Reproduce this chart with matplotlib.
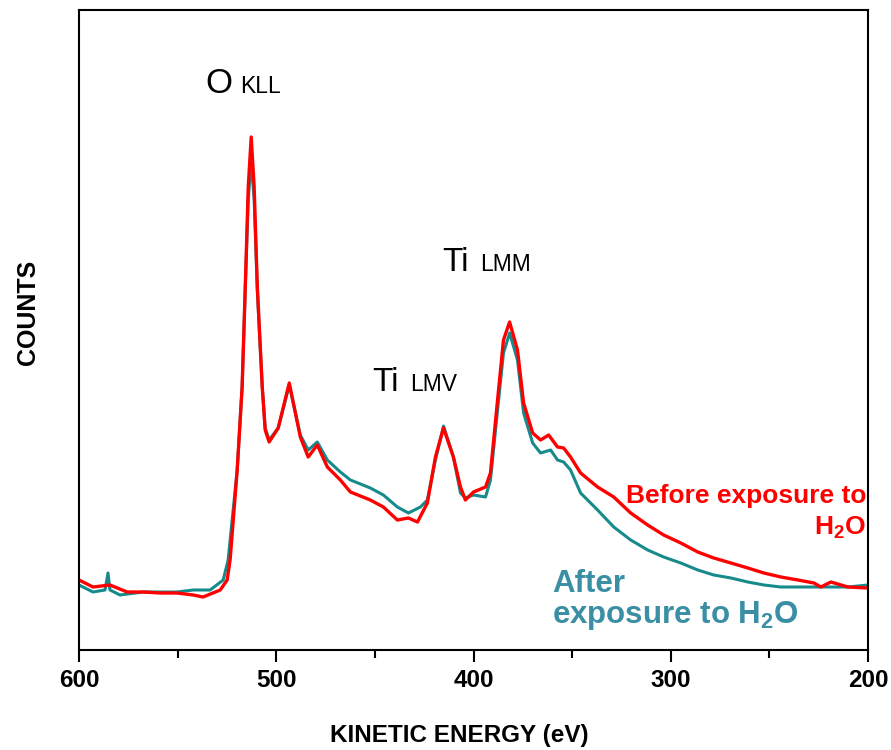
import matplotlib
matplotlib.use('Agg')
from matplotlib import pyplot as plt

plt.rcParams['font.family'] = ['Liberation Sans', 'DejaVu Sans']
plt.rcParams['mathtext.default'] = 'regular'

## spectra (kinetic energy in eV, counts in arbitrary units)
before_E = [600, 592.9, 584.3, 575.6, 567.5, 558.9, 550.3, 542.1, 537.1, 528.4, 524.9, 523.4,
            519.8, 517.3, 515.7, 514.2, 512.7, 511.2, 509.6, 507.1, 505.6, 503.6, 499.0, 493.4,
            487.8, 483.8, 479.2, 474.1, 467.5, 462.4, 452.3, 445.7, 438.6, 433.0, 428.4, 423.4,
            419.3, 415.2, 410.2, 406.6, 404.1, 400.0, 393.9, 391.4, 387.8, 384.8, 381.7, 377.7,
            374.6, 370.0, 366.0, 361.9, 357.4, 354.3, 350.8, 345.7, 337.1, 328.9, 320.3, 311.7,
            303.6, 294.9, 286.3, 278.2, 269.5, 260.9, 252.8, 244.2, 235.5, 227.4, 223.9, 218.8,
            210.2, 200]
before_counts = [70, 63, 65, 58, 58, 57, 57, 55, 53, 60, 70, 90,
                 180, 263, 363, 463, 513, 463, 363, 263, 220, 208, 222, 267,
                 213, 193, 205, 183, 170, 158, 150, 143, 130, 132, 128, 147,
                 193, 222, 193, 163, 150, 158, 163, 177, 250, 310, 328, 300,
                 247, 217, 210, 215, 203, 202, 193, 177, 163, 153, 137, 125,
                 115, 107, 98, 92, 87, 82, 77, 73, 70, 67, 63, 68,
                 63, 62]

after_E = [600, 592.9, 586.8, 585.3, 584.3, 579.2, 567.5, 558.9, 550.3, 542.1, 533.5, 526.9,
           524.4, 519.8, 517.3, 515.7, 514.2, 512.7, 511.2, 509.6, 507.1, 505.6, 503.6, 499.0,
           493.4, 487.8, 483.8, 479.2, 474.1, 467.5, 462.4, 452.3, 445.7, 438.6, 433.0, 426.9,
           423.4, 419.3, 415.2, 410.2, 406.6, 404.1, 400.0, 393.9, 391.4, 387.8, 384.8, 381.7,
           377.7, 374.6, 370.0, 366.0, 360.9, 357.4, 354.3, 350.8, 345.7, 337.1, 328.9, 320.3,
           311.7, 303.6, 294.9, 286.3, 278.2, 269.5, 260.9, 252.8, 244.2, 235.5, 227.4, 218.8,
           210.2, 200]
after_counts = [65, 58, 60, 77, 60, 55, 58, 58, 58, 60, 60, 70,
                90, 180, 263, 363, 450, 490, 450, 360, 263, 222, 210, 222,
                265, 215, 200, 208, 190, 178, 170, 162, 155, 143, 137, 143,
                150, 190, 224, 193, 157, 152, 155, 153, 170, 240, 297, 317,
                290, 237, 207, 197, 200, 190, 188, 180, 157, 140, 123, 110,
                100, 93, 87, 80, 75, 72, 68, 65, 63, 63, 63, 63,
                63, 65]

red = '#ff0000'
teal_line = '#178b8b'
teal_text = '#3a8fa4'

fig = plt.figure(figsize=(8.91, 7.5), dpi=100)
ax = fig.add_axes([79/891, 100/750, 789/891, 640/750])

ax.plot(after_E, after_counts, color=teal_line, lw=2.2)
ax.plot(before_E, before_counts, color=red, lw=2.4)

ax.set_xlim(600, 200)
ax.set_ylim(0, 640)
ax.set_yticks([])
ax.set_xticks([600, 500, 400, 300, 200])
ax.set_xticks([550, 450, 350, 250], minor=True)
ax.tick_params(axis='x', which='major', direction='out', length=8.5, width=1.5,
               labelsize=17.5, pad=5)
ax.tick_params(axis='x', which='minor', direction='out', length=5.8, width=1.5)
for lab in ax.get_xticklabels():
    lab.set_fontweight('bold')
for sp in ax.spines.values():
    sp.set_linewidth(1.5)

ax.set_xlabel('KINETIC ENERGY (eV)', fontsize=17.5, fontweight='bold')
ax.xaxis.set_label_coords((459.5 - 79) / 789, (650 - 724) / 640)
ax.set_ylabel('COUNTS', fontsize=18, fontweight='bold')
ax.yaxis.set_label_coords((40 - 79) / 789, (650 - 312) / 640)

## peak labels
ax.text(536, 557, 'O', fontsize=25, ha='left', va='baseline')
ax.text(518.3, 557, 'KLL', fontsize=16.5, ha='left', va='baseline')
ax.text(415.7, 379, 'Ti', fontsize=24, ha='left', va='baseline')
ax.text(396.4, 379, 'LMM', fontsize=16.5, ha='left', va='baseline')
ax.text(451.3, 259, 'Ti', fontsize=24, ha='left', va='baseline')
ax.text(432, 259, 'LMV', fontsize=16.5, ha='left', va='baseline')

## curve labels
ax.text(201, 147, 'Before exposure to', color=red, fontsize=19, fontweight='bold',
        ha='right', va='baseline')
ax.text(201, 115, 'H$_2$O', color=red, fontsize=19, fontweight='bold',
        ha='right', va='baseline')
ax.text(360, 58, 'After', color=teal_text, fontsize=22.5, fontweight='bold',
        ha='left', va='baseline')
ax.text(360, 27, 'exposure to H$_2$O', color=teal_text, fontsize=22.5, fontweight='bold',
        ha='left', va='baseline')

fig.savefig('out.png', dpi=100)
